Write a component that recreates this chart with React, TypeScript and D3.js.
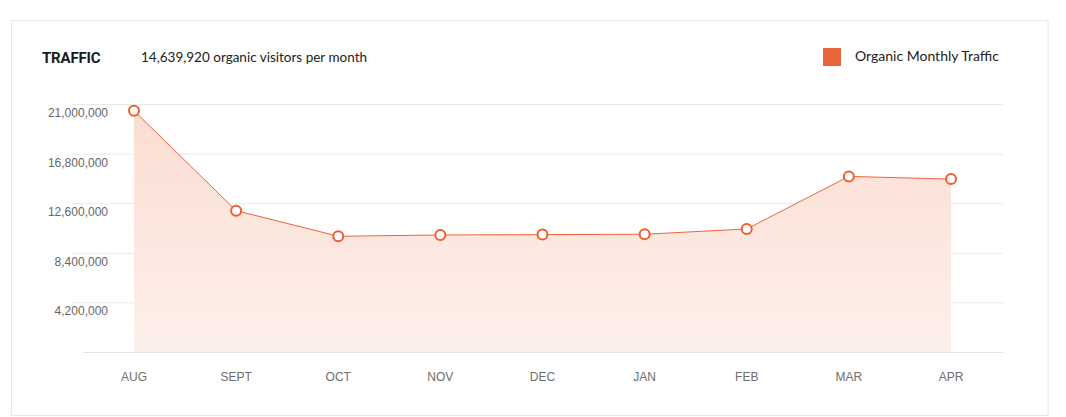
import React, { useEffect, useRef } from 'react';
import * as d3 from 'd3';

const months = ['AUG', 'SEPT', 'OCT', 'NOV', 'DEC', 'JAN', 'FEB', 'MAR', 'APR'];
const traffic = [20430000, 11970000, 9800000, 9910000, 9940000, 9970000, 10420000, 14870000, 14639920];
const yTicks = [4200000, 8400000, 12600000, 16800000, 21000000];

const W = 1066;
const H = 417;

const TrafficChart: React.FC = () => {
  const ref = useRef<SVGSVGElement>(null);

  useEffect(() => {
    if (!ref.current) return;
    const svg = d3.select(ref.current);
    svg.selectAll('*').remove();

    // card
    svg.append('rect')
      .attr('x', 11.5).attr('y', 20.5)
      .attr('width', 1036.5).attr('height', 395)
      .attr('fill', '#fff')
      .attr('stroke', '#e6e8ee');

    // header
    svg.append('text')
      .attr('x', 42).attr('y', 63)
      .attr('font-family', 'Roboto, sans-serif')
      .attr('font-weight', 700)
      .attr('font-size', 15)
      .attr('letter-spacing', -0.2)
      .attr('fill', '#1a1a1a')
      .text('TRAFFIC');

    svg.append('text')
      .attr('x', 141).attr('y', 61.5)
      .attr('font-family', 'Lato, sans-serif')
      .attr('font-size', 13.5)
      .attr('fill', '#222')
      .text('14,639,920 organic visitors per month');

    svg.append('rect')
      .attr('x', 823).attr('y', 48)
      .attr('width', 18).attr('height', 18)
      .attr('fill', '#e8643a');

    svg.append('text')
      .attr('x', 855).attr('y', 61)
      .attr('font-family', 'Lato, sans-serif')
      .attr('font-size', 14)
      .attr('fill', '#222')
      .text('Organic Monthly Traffic');

    const x = d3.scalePoint<string>().domain(months).range([134, 951]);
    const y = d3.scaleLinear().domain([0, 21000000]).range([352, 104]);

    // gradient for area
    const grad = svg.append('defs').append('linearGradient')
      .attr('id', 'areaGrad')
      .attr('gradientUnits', 'userSpaceOnUse')
      .attr('x1', 0).attr('x2', 0)
      .attr('y1', y(21000000)).attr('y2', y(0));
    grad.append('stop').attr('offset', '0%').attr('stop-color', '#fbddd1');
    grad.append('stop').attr('offset', '100%').attr('stop-color', '#fdf0eb');

    // gridlines
    const yAxis = svg.append('g')
      .attr('transform', 'translate(1003,0)')
      .call(d3.axisLeft(y).tickValues(yTicks).tickSize(931).tickFormat(() => ''));
    yAxis.select('.domain').remove();
    yAxis.selectAll('.tick line').attr('stroke', '#e8e9ef');

    // baseline
    svg.append('line')
      .attr('x1', 83).attr('x2', 1003)
      .attr('y1', y(0) + 0.5).attr('y2', y(0) + 0.5)
      .attr('stroke', '#e2e3e8');

    // y labels
    svg.append('g')
      .selectAll('text')
      .data(yTicks)
      .enter()
      .append('text')
      .attr('x', 108)
      .attr('y', d => y(d) + 13)
      .attr('text-anchor', 'end')
      .attr('font-family', '"Liberation Sans", Arial, sans-serif')
      .attr('font-size', 12)
      .attr('fill', '#666')
      .text(d => d3.format(',')(d));

    // x labels
    svg.append('g')
      .selectAll('text')
      .data(months)
      .enter()
      .append('text')
      .attr('x', d => x(d) ?? 0)
      .attr('y', 380.5)
      .attr('text-anchor', 'middle')
      .attr('font-family', '"Liberation Sans", Arial, sans-serif')
      .attr('font-size', 12)
      .attr('fill', '#6e6e6e')
      .text(d => d);

    const pts: [string, number][] = months.map((m, i) => [m, traffic[i]]);

    const area = d3.area<[string, number]>()
      .x(d => x(d[0]) ?? 0)
      .y0(y(0))
      .y1(d => y(d[1]));

    const line = d3.line<[string, number]>()
      .x(d => x(d[0]) ?? 0)
      .y(d => y(d[1]));

    svg.append('path')
      .attr('d', area(pts) ?? '')
      .attr('fill', 'url(#areaGrad)');

    svg.append('path')
      .attr('d', line(pts) ?? '')
      .attr('fill', 'none')
      .attr('stroke', '#f0643a')
      .attr('stroke-width', 1);

    svg.append('g')
      .selectAll('circle')
      .data(pts)
      .enter()
      .append('circle')
      .attr('cx', d => x(d[0]) ?? 0)
      .attr('cy', d => y(d[1]))
      .attr('r', 5)
      .attr('fill', '#fff')
      .attr('stroke', '#ef5e30')
      .attr('stroke-width', 2);
  }, []);

  return <svg ref={ref} width={W} height={H} style={{ display: 'block' }} />;
};

export default function App() {
  return (
    <div style={{ position: 'absolute', left: 0, top: 0, width: W, height: H, background: '#fff' }}>
      <TrafficChart />
    </div>
  );
}
